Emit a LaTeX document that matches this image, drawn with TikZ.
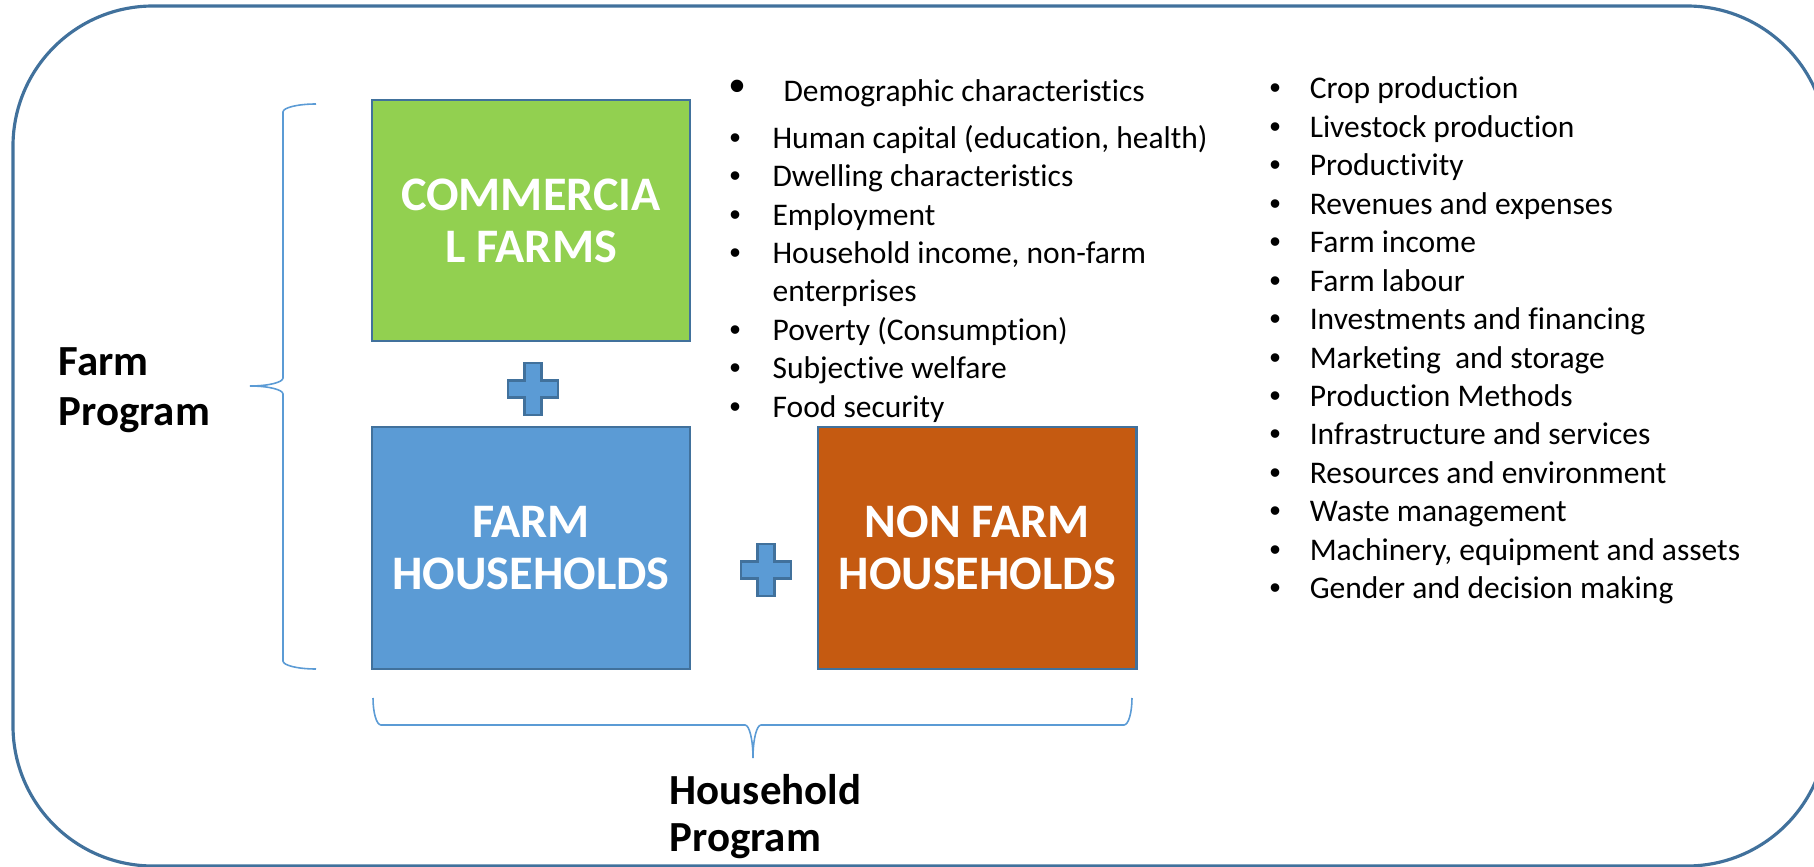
\documentclass[tikz,border=0pt]{standalone}
\usepackage{fontspec}
\setmainfont{Carlito}[Ligatures={CommonOff,ContextualOff}]
\newfontfamily\dotfont{Liberation Sans}
\usetikzlibrary{positioning}

\definecolor{commgreen}{HTML}{92D050}
\definecolor{hhblue}{HTML}{5B9BD5}
\definecolor{nfbrown}{HTML}{C55A11}
\definecolor{edgeblue}{HTML}{41719C}

\newcommand{\dotitem}{{\dotfont •}}

\tikzset{
    plussign/.pic={
        \draw[edgeblue, line width=0.6pt, fill=hhblue]
            (-8.5,-26) -- (8.5,-26) -- (8.5,-8.5) -- (25,-8.5) -- (25,8.5) -- (8.5,8.5)
            -- (8.5,26) -- (-8.5,26) -- (-8.5,8.5) -- (-25,8.5) -- (-25,-8.5) -- (-8.5,-8.5) -- cycle;
    }
}

\begin{document}
\begin{tikzpicture}[
    x=0.01cm, y=-0.01cm,
    node distance=0.84cm and 1.26cm,
    sector/.style={draw=edgeblue, line width=0.6pt, minimum width=3.18cm, minimum height=2.41cm,
        align=center, text=white, font=\fontsize{13.7}{14.8}\selectfont\bfseries},
    program/.style={inner sep=0pt, font=\fontsize{12.2}{13.5}\selectfont\bfseries},
    topics/.style={inner sep=0pt, font=\fontsize{8.96}{10.93}\selectfont},
    curly/.style={draw=hhblue, line width=0.45pt}
]
\useasboundingbox (0,0) rectangle (1814,867);

% outer frame
\draw[edgeblue, line width=0.9pt, rounded corners=1.4cm] (13,6) rectangle (1827,866);

% the three groups
\node[sector, fill=hhblue] (farmhh) at (531,548) {FARM\\HOUSEHOLDS};
\node[sector, fill=commgreen, above=of farmhh] (comm) {COMMERCIA\\L FARMS};
\node[sector, fill=nfbrown, right=of farmhh] (nonfarm) {NON FARM\\HOUSEHOLDS};

\pic at (533,389) {plussign};
\pic at (766,570) {plussign};

% topic lists
\node[topics, anchor=base west] (hhtopics) at (729,102) {%
\begin{tabular}[t]{@{}p{12.2pt}@{}l@{}}
{\fontsize{13}{13}\selectfont\dotitem} & \hspace{3.1pt}Demographic characteristics\\[2.2pt]
\dotitem & Human capital (education, health)\\
\dotitem & Dwelling characteristics\\
\dotitem & Employment\\
\dotitem & Household income, non-farm\\
  & enterprises\\
\dotitem & Poverty (Consumption)\\
\dotitem & Subjective welfare\\
\dotitem & Food security
\end{tabular}};

\node[topics, anchor=base west] (farmtopics) at (1269,99) {%
\begin{tabular}[t]{@{}p{11.4pt}@{}l@{}}
\dotitem & Crop production\\
\dotitem & Livestock production\\
\dotitem & Productivity\\
\dotitem & Revenues and expenses\\
\dotitem & Farm income\\
\dotitem & Farm labour\\
\dotitem & Investments and financing\\
\dotitem & Marketing~ and storage\\
\dotitem & Production Methods\\
\dotitem & Infrastructure and services\\
\dotitem & Resources and environment\\
\dotitem & Waste management\\
\dotitem & Machinery, equipment and assets\\
\dotitem & Gender and decision making
\end{tabular}};

% programme labels and their braces
\node[program, anchor=base west, font=\fontsize{12.2}{14}\selectfont\bfseries] (farmprog) at (58,376) {%
\begin{tabular}[t]{@{}l@{}}Farm\\Program\end{tabular}};
\node[program, anchor=base west] (hhprog) at (669,804) {%
\begin{tabular}[t]{@{}l@{}}Household\\Program\end{tabular}};

\draw[curly] (316,104) .. controls (297.8,104) and (283,107.6) .. (283,112)
  -- (283,378) .. controls (283,382.4) and (268.2,386) .. (250,386)
  .. controls (268.2,386) and (283,389.6) .. (283,394)
  -- (283,661) .. controls (283,665.4) and (297.8,669) .. (316,669);

\draw[curly] (373,698) .. controls (373,712.9) and (376.6,725) .. (381,725)
  -- (745,725) .. controls (749.4,725) and (753,739.8) .. (753,758)
  .. controls (753,739.8) and (756.6,725) .. (761,725)
  -- (1124,725) .. controls (1128.4,725) and (1132,712.9) .. (1132,698);
\end{tikzpicture}
\end{document}
